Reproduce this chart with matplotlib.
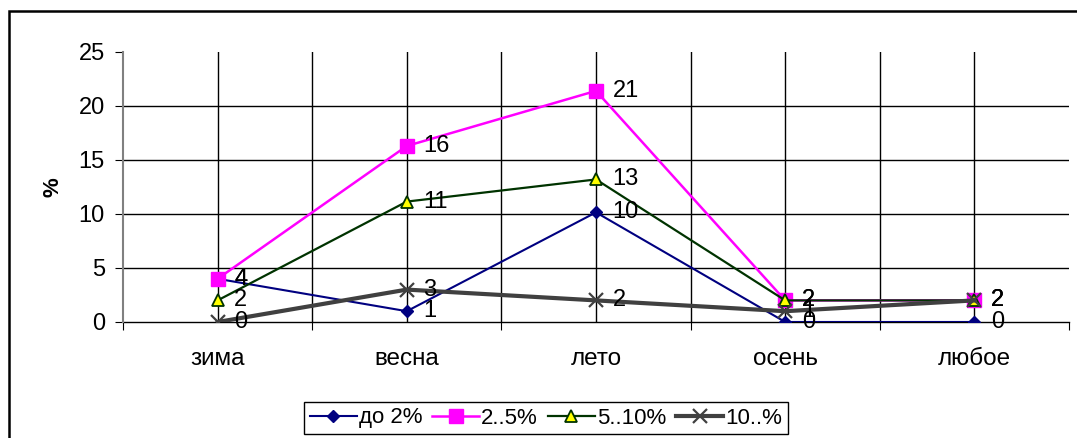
import numpy as np
import matplotlib.pyplot as plt
from matplotlib.patches import Rectangle

plt.rcParams['font.family'] = ['Liberation Sans', 'DejaVu Sans']

seasons = ['зима', 'весна', 'лето', 'осень', 'любое']
upto2 = [4, 1, 10.15, 0, 0]
from2to5 = [4, 16.3, 21.4, 2, 2]
from5to10 = [2, 11.15, 13.2, 2, 2]
over10 = [0, 3, 2, 1, 2]

W, H = 1077, 438
fig = plt.figure(figsize=(W / 100, H / 100), dpi=100)
ax = fig.add_axes([123 / W, 116 / H, (1069 - 123) / W, 270 / H])

x = np.arange(len(seasons))

# gridlines: every half category, horizontal every 5 up to 20
for gx in np.arange(0, 4.01, 0.5):
    ax.axvline(gx, color='black', lw=1, zorder=1)
for gy in [5, 10, 15, 20]:
    ax.axhline(gy, color='black', lw=1, zorder=1)

ax.plot(x, upto2, color='#000080', lw=1.5, marker='D', ms=6.5,
        mfc='#000080', mec='#000080', label='до 2%', zorder=3)
ax.plot(x, from2to5, color='#FF00FF', lw=1.8, marker='s', ms=10,
        mfc='#FF00FF', mec='#FF00FF', label='2..5%', zorder=4)
ax.plot(x, from5to10, color='#003300', lw=1.6, marker='^', ms=9,
        mfc='#FFFF00', mec='#003300', mew=1.3, label='5..10%', zorder=5)
ax.plot(x, over10, color='#404040', lw=3, marker='x', ms=10.5, mew=1.6,
        mec='#404040', label='10..%', zorder=6)

# value labels to the right of each point
for z, ser in enumerate([upto2, from2to5, from5to10, over10]):
    for xi, v in zip(x, ser):
        ax.annotate(f'{v:.0f}', (xi, v), xytext=(12, 0), textcoords='offset points',
                    va='center', ha='left', fontsize=17, zorder=7 + z)

ax.set_xlim(-0.5, 4.5)
ax.set_ylim(0, 25)
ax.set_yticks([0, 5, 10, 15, 20, 25])
ax.set_xticks(np.arange(-0.5, 4.6, 1))
ax.set_xticklabels([])
ax.set_xticks(x, minor=True)
ax.set_xticklabels(seasons, minor=True)
ax.tick_params(axis='x', which='major', length=6, direction='out', color='black')
ax.tick_params(axis='x', which='minor', length=0, pad=19, labelsize=17.5)
ax.tick_params(axis='y', length=6, direction='out', color='black', pad=7, labelsize=17)

for s in ['top', 'right']:
    ax.spines[s].set_visible(False)
ax.spines['left'].set_color('#808080')
ax.spines['left'].set_linewidth(1.5)
ax.spines['bottom'].set_color('black')
ax.spines['bottom'].set_linewidth(1)
ax.spines['bottom'].set_zorder(2)

ax.set_ylabel('%', fontsize=16, fontweight='bold', labelpad=11)

fig.legend(loc='center', bbox_to_anchor=(546 / W, 1 - 418 / H), ncol=4,
           fontsize=16, frameon=True, fancybox=False, edgecolor='black',
           framealpha=1, handlelength=2.1, handletextpad=0.1,
           columnspacing=0.45, borderpad=0.25, borderaxespad=0)

# chart frame
fig.patches.append(Rectangle((9 / W, -0.1), 1.2, (H - 11) / H + 0.1,
                             transform=fig.transFigure, fill=False,
                             edgecolor='black', lw=1.8))

fig.savefig('out.png', dpi=100)
